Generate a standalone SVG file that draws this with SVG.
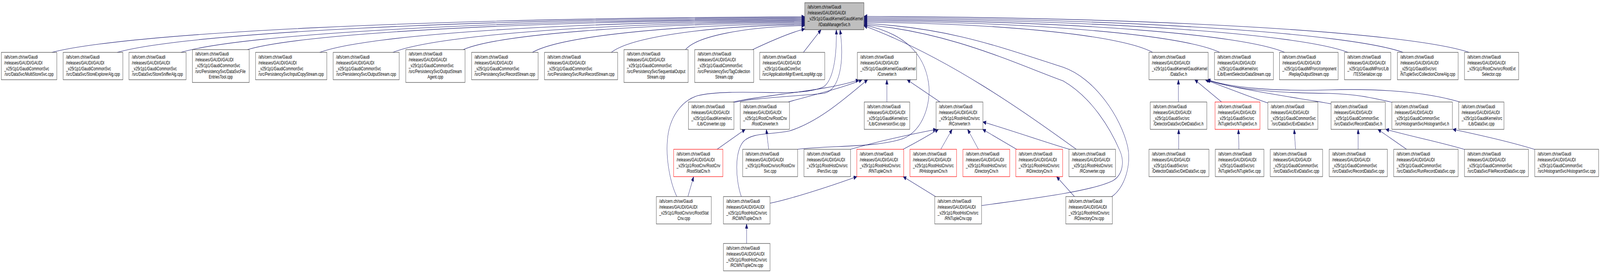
<svg xmlns="http://www.w3.org/2000/svg" width="6080" height="696" viewBox="0 0 6080 696" preserveAspectRatio="none">
<defs>
<style>
:root{width:100vw;height:100vh}
.n{fill:#ffffff;stroke:#404040;stroke-width:1.2}
.r{fill:#ffffff;stroke:#ff0000;stroke-width:1.2}
.root{fill:#bfbfbf;stroke:#404040;stroke-width:1.2}
text{font-family:"Liberation Sans",Arial,Helvetica,sans-serif;font-size:13.3px;fill:#000000}
.c{text-anchor:middle}
#edges path{fill:none;stroke:#191970;stroke-width:1.1}
</style>
<marker id="ah" markerUnits="userSpaceOnUse" markerWidth="14" markerHeight="12" refX="12" refY="5" orient="auto">
<path d="M0,0 L12,5 L0,10 z" fill="#191970" stroke="#191970" stroke-width="1"/>
</marker>
</defs>
<rect width="6080" height="696" fill="#ffffff"/>

<g id="edges" marker-end="url(#ah)">
<path d="M197,134 C483,84 1628,46 3058,43"/>
<path d="M445,134 C706,85 1752,48.5 3058,45.5"/>
<path d="M687,134 C924,87 1873,51 3058,48"/>
<path d="M940,127 C1152,85 1997,53.5 3058,50.5"/>
<path d="M1215,134 C1399,89 2137,56 3058,53"/>
<path d="M1493,134 C1650,91 2276,58.5 3058,55.5"/>
<path d="M1760,127 C1890,89 2409,61 3058,58"/>
<path d="M2023,134 C2127,94 2541,63.5 3058,60.5"/>
<path d="M2323,134 C2397,95 2691,66 3058,63"/>
<path d="M2605,127 C2646,93 2829,68.5 3058,65.5"/>
<path d="M2860,127 C2920,108 3000,84 3058,74"/>
<path d="M3053,134 L3120,76"/>
<path d="M4380,134 C4270,92 3831,60 3283,57"/>
<path d="M4635,134 C4500,90 3959,57 3283,54"/>
<path d="M4882,134 C4722,88 4082,54 3283,51"/>
<path d="M5123,134 C4939,87 4203,51 3283,48"/>
<path d="M5332,134 C5127,85 4307,48 3283,45"/>
<path d="M5583,134 C5353,83 4433,45 3283,42"/>
<path d="M3370,261 L3370,204"/>
<path d="M3572,261 L3447,204"/>
<path d="M2785,261 C2900,243 3150,232 3264,204"/>
<path d="M2995,261 C3050,250 3200,226 3276,204"/>
<path d="M2817,503 C2795,460 2790,390 2825,362 C2860,338 2930,345 3000,335 C3120,310 3230,240 3297,204"/>
<path d="M2572,503 C2548,470 2530,410 2536,360 C2542,300 2590,258 2650,245 C2720,233 2850,236 2950,237 C3050,238 3100,232 3130,222 C3165,205 3180,150 3178,76"/>
<path d="M2790,262 C2870,250 3050,245 3130,239 C3190,232 3210,160 3192,76"/>
<path d="M2725,382 L2832,331"/>
<path d="M2921,382 L2912,331"/>
<path d="M2614,503 L2636,452"/>
<path d="M2837,623 L2837,573"/>
<path d="M2926,520 C3000,510 3150,478 3256,452"/>
<path d="M3031,382 C3150,372 3330,378 3430,355 C3510,335 3540,260 3528,210 C3512,140 3440,85 3283,64"/>
<path d="M3232,382 C3320,365 3450,345 3558,331"/>
<path d="M3432,382 C3480,365 3520,350 3566,331"/>
<path d="M3575,382 L3618,331"/>
<path d="M3718,382 L3677,331"/>
<path d="M3863,382 L3734,331"/>
<path d="M4064,382 C4000,370 3850,335 3735,312"/>
<path d="M4090,382 C3900,290 3600,145 3283,66"/>
<path d="M3555,503 L3432,452"/>
<path d="M3730,526 C3900,510 4150,490 4230,462 C4270,445 4272,410 4255,385 C4220,330 4150,250 4040,207 C3850,160 3600,80 3283,63"/>
<path d="M4083,503 L4015,452"/>
<path d="M4225,503 C4275,480 4300,420 4285,375 C4260,300 4160,200 4040,172 C3800,120 3600,70 3283,60"/>
<path d="M4478,261 L4478,204"/>
<path d="M4642,261 L4540,204"/>
<path d="M4820,264 C4750,248 4650,222 4580,204"/>
<path d="M5060,266 C4950,252 4700,230 4584,204"/>
<path d="M5292,262 C5200,248 5150,241 5050,239 C4850,238 4680,228 4586,204"/>
<path d="M5548,261 C5420,236 5250,226 5050,230 C4850,234 4680,225 4588,204"/>
<path d="M4479,382 L4479,331"/>
<path d="M4708,382 L4706,331"/>
<path d="M4923,382 L4918,331"/>
<path d="M5161,382 L5161,331"/>
<path d="M5345,382 L5236,331"/>
<path d="M5568,383 C5480,365 5380,352 5266,331"/>
<path d="M5835,383 C5750,365 5620,345 5521,331"/>
</g>

<g id="IDataManagerSvc_h" transform="translate(3058,7)"><rect class="root" width="225" height="69"/><text><tspan x="11" y="15.5">/afs/cern.ch/sw/Gaudi</tspan><tspan x="11" y="30.3">/releases/GAUDI/GAUDI</tspan><tspan x="11" y="45.1">_v25r1p1/GaudiKernel/GaudiKernel</tspan></text><text class="c" x="112.5" y="59.9">/IDataManagerSvc.h</text></g>

<g id="MultiStoreSvc_cpp" transform="translate(5,134)"><rect class="n" width="211" height="70"/><text><tspan x="11" y="16">/afs/cern.ch/sw/Gaudi</tspan><tspan x="11" y="30.8">/releases/GAUDI/GAUDI</tspan><tspan x="11" y="45.6">_v25r1p1/GaudiCommonSvc</tspan></text><text class="c" x="105.5" y="60.4">/src/DataSvc/MultiStoreSvc.cpp</text></g>
<g id="StoreExplorerAlg_cpp" transform="translate(240,134)"><rect class="n" width="227" height="70"/><text><tspan x="11" y="16">/afs/cern.ch/sw/Gaudi</tspan><tspan x="11" y="30.8">/releases/GAUDI/GAUDI</tspan><tspan x="11" y="45.6">_v25r1p1/GaudiCommonSvc</tspan></text><text class="c" x="113.5" y="60.4">/src/DataSvc/StoreExplorerAlg.cpp</text></g>
<g id="StoreSnifferAlg_cpp" transform="translate(490,134)"><rect class="n" width="217" height="70"/><text><tspan x="11" y="16">/afs/cern.ch/sw/Gaudi</tspan><tspan x="11" y="30.8">/releases/GAUDI/GAUDI</tspan><tspan x="11" y="45.6">_v25r1p1/GaudiCommonSvc</tspan></text><text class="c" x="108.5" y="60.4">/src/DataSvc/StoreSnifferAlg.cpp</text></g>
<g id="DataSvcFileEntriesTool_cpp" transform="translate(731,127)"><rect class="n" width="216" height="84"/><text><tspan x="11" y="15.3">/afs/cern.ch/sw/Gaudi</tspan><tspan x="11" y="30.1">/releases/GAUDI/GAUDI</tspan><tspan x="11" y="44.9">_v25r1p1/GaudiCommonSvc</tspan><tspan x="11" y="59.7">/src/PersistencySvc/DataSvcFile</tspan></text><text class="c" x="108" y="74.5">EntriesTool.cpp</text></g>
<g id="InputCopyStream_cpp" transform="translate(971,134)"><rect class="n" width="271" height="70"/><text><tspan x="11" y="16">/afs/cern.ch/sw/Gaudi</tspan><tspan x="11" y="30.8">/releases/GAUDI/GAUDI</tspan><tspan x="11" y="45.6">_v25r1p1/GaudiCommonSvc</tspan></text><text class="c" x="135.5" y="60.4">/src/PersistencySvc/InputCopyStream.cpp</text></g>
<g id="OutputStream_cpp" transform="translate(1266,134)"><rect class="n" width="251" height="70"/><text><tspan x="11" y="16">/afs/cern.ch/sw/Gaudi</tspan><tspan x="11" y="30.8">/releases/GAUDI/GAUDI</tspan><tspan x="11" y="45.6">_v25r1p1/GaudiCommonSvc</tspan></text><text class="c" x="125.5" y="60.4">/src/PersistencySvc/OutputStream.cpp</text></g>
<g id="OutputStreamAgent_cpp" transform="translate(1542,127)"><rect class="n" width="225" height="84"/><text><tspan x="11" y="15.3">/afs/cern.ch/sw/Gaudi</tspan><tspan x="11" y="30.1">/releases/GAUDI/GAUDI</tspan><tspan x="11" y="44.9">_v25r1p1/GaudiCommonSvc</tspan><tspan x="11" y="59.7">/src/PersistencySvc/OutputStream</tspan></text><text class="c" x="112.5" y="74.5">Agent.cpp</text></g>
<g id="RecordStream_cpp" transform="translate(1792,134)"><rect class="n" width="253" height="70"/><text><tspan x="11" y="16">/afs/cern.ch/sw/Gaudi</tspan><tspan x="11" y="30.8">/releases/GAUDI/GAUDI</tspan><tspan x="11" y="45.6">_v25r1p1/GaudiCommonSvc</tspan></text><text class="c" x="126.5" y="60.4">/src/PersistencySvc/RecordStream.cpp</text></g>
<g id="RunRecordStream_cpp" transform="translate(2069,134)"><rect class="n" width="278" height="70"/><text><tspan x="11" y="16">/afs/cern.ch/sw/Gaudi</tspan><tspan x="11" y="30.8">/releases/GAUDI/GAUDI</tspan><tspan x="11" y="45.6">_v25r1p1/GaudiCommonSvc</tspan></text><text class="c" x="139" y="60.4">/src/PersistencySvc/RunRecordStream.cpp</text></g>
<g id="SequentialOutputStream_cpp" transform="translate(2371,127)"><rect class="n" width="244" height="84"/><text><tspan x="11" y="15.3">/afs/cern.ch/sw/Gaudi</tspan><tspan x="11" y="30.1">/releases/GAUDI/GAUDI</tspan><tspan x="11" y="44.9">_v25r1p1/GaudiCommonSvc</tspan><tspan x="11" y="59.7">/src/PersistencySvc/SequentialOutput</tspan></text><text class="c" x="122" y="74.5">Stream.cpp</text></g>
<g id="TagCollectionStream_cpp" transform="translate(2640,127)"><rect class="n" width="224" height="84"/><text><tspan x="11" y="15.3">/afs/cern.ch/sw/Gaudi</tspan><tspan x="11" y="30.1">/releases/GAUDI/GAUDI</tspan><tspan x="11" y="44.9">_v25r1p1/GaudiCommonSvc</tspan><tspan x="11" y="59.7">/src/PersistencySvc/TagCollection</tspan></text><text class="c" x="112" y="74.5">Stream.cpp</text></g>
<g id="EventLoopMgr_cpp" transform="translate(2887,134)"><rect class="n" width="247" height="70"/><text><tspan x="11" y="16">/afs/cern.ch/sw/Gaudi</tspan><tspan x="11" y="30.8">/releases/GAUDI/GAUDI</tspan><tspan x="11" y="45.6">_v25r1p1/GaudiCoreSvc</tspan></text><text class="c" x="123.5" y="60.4">/src/ApplicationMgr/EventLoopMgr.cpp</text></g>
<g id="Converter_h" transform="translate(3258,134)"><rect class="n" width="225" height="70"/><text><tspan x="11" y="16">/afs/cern.ch/sw/Gaudi</tspan><tspan x="11" y="30.8">/releases/GAUDI/GAUDI</tspan><tspan x="11" y="45.6">_v25r1p1/GaudiKernel/GaudiKernel</tspan></text><text class="c" x="112.5" y="60.4">/Converter.h</text></g>
<g id="DataSvc_h" transform="translate(4366,134)"><rect class="n" width="225" height="70"/><text><tspan x="11" y="16">/afs/cern.ch/sw/Gaudi</tspan><tspan x="11" y="30.8">/releases/GAUDI/GAUDI</tspan><tspan x="11" y="45.6">_v25r1p1/GaudiKernel/GaudiKernel</tspan></text><text class="c" x="112.5" y="60.4">/DataSvc.h</text></g>
<g id="EventSelectorDataStream_cpp" transform="translate(4615,134)"><rect class="n" width="224" height="70"/><text><tspan x="11" y="16">/afs/cern.ch/sw/Gaudi</tspan><tspan x="11" y="30.8">/releases/GAUDI/GAUDI</tspan><tspan x="11" y="45.6">_v25r1p1/GaudiKernel/src</tspan></text><text class="c" x="112" y="60.4">/Lib/EventSelectorDataStream.cpp</text></g>
<g id="ReplayOutputStream_cpp" transform="translate(4862,134)"><rect class="n" width="223" height="70"/><text><tspan x="11" y="16">/afs/cern.ch/sw/Gaudi</tspan><tspan x="11" y="30.8">/releases/GAUDI/GAUDI</tspan><tspan x="11" y="45.6">_v25r1p1/GaudiMP/src/component</tspan></text><text class="c" x="111.5" y="60.4">/ReplayOutputStream.cpp</text></g>
<g id="TESSerializer_cpp" transform="translate(5109,134)"><rect class="n" width="176" height="70"/><text><tspan x="11" y="16">/afs/cern.ch/sw/Gaudi</tspan><tspan x="11" y="30.8">/releases/GAUDI/GAUDI</tspan><tspan x="11" y="45.6">_v25r1p1/GaudiMP/src/Lib</tspan></text><text class="c" x="88" y="60.4">/TESSerializer.cpp</text></g>
<g id="CollectionCloneAlg_cpp" transform="translate(5310,134)"><rect class="n" width="231" height="70"/><text><tspan x="11" y="16">/afs/cern.ch/sw/Gaudi</tspan><tspan x="11" y="30.8">/releases/GAUDI/GAUDI</tspan><tspan x="11" y="45.6">_v25r1p1/GaudiSvc/src</tspan></text><text class="c" x="115.5" y="60.4">/NTupleSvc/CollectionCloneAlg.cpp</text></g>
<g id="RootEvtSelector_cpp" transform="translate(5565,134)"><rect class="n" width="206" height="70"/><text><tspan x="11" y="16">/afs/cern.ch/sw/Gaudi</tspan><tspan x="11" y="30.8">/releases/GAUDI/GAUDI</tspan><tspan x="11" y="45.6">_v25r1p1/RootCnv/src/RootEvt</tspan></text><text class="c" x="103" y="60.4">Selector.cpp</text></g>

<g id="Converter_cpp" transform="translate(2616,261)"><rect class="n" width="173" height="70"/><text><tspan x="11" y="16">/afs/cern.ch/sw/Gaudi</tspan><tspan x="11" y="30.8">/releases/GAUDI/GAUDI</tspan><tspan x="11" y="45.6">_v25r1p1/GaudiKernel/src</tspan></text><text class="c" x="86.5" y="60.4">/Lib/Converter.cpp</text></g>
<g id="RootConverter_h" transform="translate(2813,261)"><rect class="n" width="187" height="70"/><text><tspan x="11" y="16">/afs/cern.ch/sw/Gaudi</tspan><tspan x="11" y="30.8">/releases/GAUDI/GAUDI</tspan><tspan x="11" y="45.6">_v25r1p1/RootCnv/RootCnv</tspan></text><text class="c" x="93.5" y="60.4">/RootConverter.h</text></g>
<g id="ConversionSvc_cpp" transform="translate(3284,261)"><rect class="n" width="173" height="70"/><text><tspan x="11" y="16">/afs/cern.ch/sw/Gaudi</tspan><tspan x="11" y="30.8">/releases/GAUDI/GAUDI</tspan><tspan x="11" y="45.6">_v25r1p1/GaudiKernel/src</tspan></text><text class="c" x="86.5" y="60.4">/Lib/ConversionSvc.cpp</text></g>
<g id="RConverter_h" transform="translate(3557,261)"><rect class="n" width="178" height="70"/><text><tspan x="11" y="16">/afs/cern.ch/sw/Gaudi</tspan><tspan x="11" y="30.8">/releases/GAUDI/GAUDI</tspan><tspan x="11" y="45.6">_v25r1p1/RootHistCnv/src</tspan></text><text class="c" x="89" y="60.4">/RConverter.h</text></g>
<g id="DetDataSvc_h" transform="translate(4371,261)"><rect class="n" width="215" height="70"/><text><tspan x="11" y="16">/afs/cern.ch/sw/Gaudi</tspan><tspan x="11" y="30.8">/releases/GAUDI/GAUDI</tspan><tspan x="11" y="45.6">_v25r1p1/GaudiSvc/src</tspan></text><text class="c" x="107.5" y="60.4">/DetectorDataSvc/DetDataSvc.h</text></g>
<g id="NTupleSvc_h" transform="translate(4617,261)"><rect class="r" width="171" height="70"/><text><tspan x="11" y="16">/afs/cern.ch/sw/Gaudi</tspan><tspan x="11" y="30.8">/releases/GAUDI/GAUDI</tspan><tspan x="11" y="45.6">_v25r1p1/GaudiSvc/src</tspan></text><text class="c" x="85.5" y="60.4">/NTupleSvc/NTupleSvc.h</text></g>
<g id="EvtDataSvc_h" transform="translate(4818,261)"><rect class="n" width="190" height="70"/><text><tspan x="11" y="16">/afs/cern.ch/sw/Gaudi</tspan><tspan x="11" y="30.8">/releases/GAUDI/GAUDI</tspan><tspan x="11" y="45.6">_v25r1p1/GaudiCommonSvc</tspan></text><text class="c" x="95" y="60.4">/src/DataSvc/EvtDataSvc.h</text></g>
<g id="RecordDataSvc_h" transform="translate(5058,261)"><rect class="n" width="206" height="70"/><text><tspan x="11" y="16">/afs/cern.ch/sw/Gaudi</tspan><tspan x="11" y="30.8">/releases/GAUDI/GAUDI</tspan><tspan x="11" y="45.6">_v25r1p1/GaudiCommonSvc</tspan></text><text class="c" x="103" y="60.4">/src/DataSvc/RecordDataSvc.h</text></g>
<g id="HistogramSvc_h" transform="translate(5289,261)"><rect class="n" width="230" height="70"/><text><tspan x="11" y="16">/afs/cern.ch/sw/Gaudi</tspan><tspan x="11" y="30.8">/releases/GAUDI/GAUDI</tspan><tspan x="11" y="45.6">_v25r1p1/GaudiCommonSvc</tspan></text><text class="c" x="115" y="60.4">/src/HistogramSvc/HistogramSvc.h</text></g>
<g id="DataSvc_cpp" transform="translate(5543,261)"><rect class="n" width="172" height="70"/><text><tspan x="11" y="16">/afs/cern.ch/sw/Gaudi</tspan><tspan x="11" y="30.8">/releases/GAUDI/GAUDI</tspan><tspan x="11" y="45.6">_v25r1p1/GaudiKernel/src</tspan></text><text class="c" x="86" y="60.4">/Lib/DataSvc.cpp</text></g>

<g id="RootStatCnv_h" transform="translate(2560,382)"><rect class="r" width="187" height="70"/><text><tspan x="11" y="16">/afs/cern.ch/sw/Gaudi</tspan><tspan x="11" y="30.8">/releases/GAUDI/GAUDI</tspan><tspan x="11" y="45.6">_v25r1p1/RootCnv/RootCnv</tspan></text><text class="c" x="93.5" y="60.4">/RootStatCnv.h</text></g>
<g id="RootCnvSvc_cpp" transform="translate(2822,382)"><rect class="n" width="209" height="70"/><text><tspan x="11" y="16">/afs/cern.ch/sw/Gaudi</tspan><tspan x="11" y="30.8">/releases/GAUDI/GAUDI</tspan><tspan x="11" y="45.6">_v25r1p1/RootCnv/src/RootCnv</tspan></text><text class="c" x="104.5" y="60.4">Svc.cpp</text></g>
<g id="PersSvc_cpp" transform="translate(3055,382)"><rect class="n" width="177" height="70"/><text><tspan x="11" y="16">/afs/cern.ch/sw/Gaudi</tspan><tspan x="11" y="30.8">/releases/GAUDI/GAUDI</tspan><tspan x="11" y="45.6">_v25r1p1/RootHistCnv/src</tspan></text><text class="c" x="88.5" y="60.4">/PersSvc.cpp</text></g>
<g id="RNTupleCnv_h" transform="translate(3256,382)"><rect class="r" width="178" height="70"/><text><tspan x="11" y="16">/afs/cern.ch/sw/Gaudi</tspan><tspan x="11" y="30.8">/releases/GAUDI/GAUDI</tspan><tspan x="11" y="45.6">_v25r1p1/RootHistCnv/src</tspan></text><text class="c" x="89" y="60.4">/RNTupleCnv.h</text></g>
<g id="RHistogramCnv_h" transform="translate(3458,382)"><rect class="r" width="177" height="70"/><text><tspan x="11" y="16">/afs/cern.ch/sw/Gaudi</tspan><tspan x="11" y="30.8">/releases/GAUDI/GAUDI</tspan><tspan x="11" y="45.6">_v25r1p1/RootHistCnv/src</tspan></text><text class="c" x="88.5" y="60.4">/RHistogramCnv.h</text></g>
<g id="DirectoryCnv_h" transform="translate(3659,382)"><rect class="r" width="178" height="70"/><text><tspan x="11" y="16">/afs/cern.ch/sw/Gaudi</tspan><tspan x="11" y="30.8">/releases/GAUDI/GAUDI</tspan><tspan x="11" y="45.6">_v25r1p1/RootHistCnv/src</tspan></text><text class="c" x="89" y="60.4">/DirectoryCnv.h</text></g>
<g id="RDirectoryCnv_h" transform="translate(3860,382)"><rect class="r" width="178" height="70"/><text><tspan x="11" y="16">/afs/cern.ch/sw/Gaudi</tspan><tspan x="11" y="30.8">/releases/GAUDI/GAUDI</tspan><tspan x="11" y="45.6">_v25r1p1/RootHistCnv/src</tspan></text><text class="c" x="89" y="60.4">/RDirectoryCnv.h</text></g>
<g id="RConverter_cpp" transform="translate(4062,382)"><rect class="n" width="177" height="70"/><text><tspan x="11" y="16">/afs/cern.ch/sw/Gaudi</tspan><tspan x="11" y="30.8">/releases/GAUDI/GAUDI</tspan><tspan x="11" y="45.6">_v25r1p1/RootHistCnv/src</tspan></text><text class="c" x="88.5" y="60.4">/RConverter.cpp</text></g>
<g id="DetDataSvc_cpp" transform="translate(4366,382)"><rect class="n" width="228" height="70"/><text><tspan x="11" y="16">/afs/cern.ch/sw/Gaudi</tspan><tspan x="11" y="30.8">/releases/GAUDI/GAUDI</tspan><tspan x="11" y="45.6">_v25r1p1/GaudiSvc/src</tspan></text><text class="c" x="114" y="60.4">/DetectorDataSvc/DetDataSvc.cpp</text></g>
<g id="NTupleSvc_cpp" transform="translate(4618,382)"><rect class="n" width="185" height="70"/><text><tspan x="11" y="16">/afs/cern.ch/sw/Gaudi</tspan><tspan x="11" y="30.8">/releases/GAUDI/GAUDI</tspan><tspan x="11" y="45.6">_v25r1p1/GaudiSvc/src</tspan></text><text class="c" x="92.5" y="60.4">/NTupleSvc/NTupleSvc.cpp</text></g>
<g id="EvtDataSvc_cpp" transform="translate(4827,382)"><rect class="n" width="199" height="70"/><text><tspan x="11" y="16">/afs/cern.ch/sw/Gaudi</tspan><tspan x="11" y="30.8">/releases/GAUDI/GAUDI</tspan><tspan x="11" y="45.6">_v25r1p1/GaudiCommonSvc</tspan></text><text class="c" x="99.5" y="60.4">/src/DataSvc/EvtDataSvc.cpp</text></g>
<g id="RecordDataSvc_cpp" transform="translate(5051,382)"><rect class="n" width="221" height="70"/><text><tspan x="11" y="16">/afs/cern.ch/sw/Gaudi</tspan><tspan x="11" y="30.8">/releases/GAUDI/GAUDI</tspan><tspan x="11" y="45.6">_v25r1p1/GaudiCommonSvc</tspan></text><text class="c" x="110.5" y="60.4">/src/DataSvc/RecordDataSvc.cpp</text></g>
<g id="RunRecordDataSvc_cpp" transform="translate(5296,382)"><rect class="n" width="245" height="70"/><text><tspan x="11" y="16">/afs/cern.ch/sw/Gaudi</tspan><tspan x="11" y="30.8">/releases/GAUDI/GAUDI</tspan><tspan x="11" y="45.6">_v25r1p1/GaudiCommonSvc</tspan></text><text class="c" x="122.5" y="60.4">/src/DataSvc/RunRecordDataSvc.cpp</text></g>
<g id="FileRecordDataSvc_cpp" transform="translate(5565,382)"><rect class="n" width="243" height="70"/><text><tspan x="11" y="16">/afs/cern.ch/sw/Gaudi</tspan><tspan x="11" y="30.8">/releases/GAUDI/GAUDI</tspan><tspan x="11" y="45.6">_v25r1p1/GaudiCommonSvc</tspan></text><text class="c" x="121.5" y="60.4">/src/DataSvc/FileRecordDataSvc.cpp</text></g>
<g id="HistogramSvc_cpp" transform="translate(5832,382)"><rect class="n" width="243" height="70"/><text><tspan x="11" y="16">/afs/cern.ch/sw/Gaudi</tspan><tspan x="11" y="30.8">/releases/GAUDI/GAUDI</tspan><tspan x="11" y="45.6">_v25r1p1/GaudiCommonSvc</tspan></text><text class="c" x="121.5" y="60.4">/src/HistogramSvc/HistogramSvc.cpp</text></g>

<g id="RootStatCnv_cpp" transform="translate(2494,503)"><rect class="n" width="209" height="70"/><text><tspan x="11" y="16">/afs/cern.ch/sw/Gaudi</tspan><tspan x="11" y="30.8">/releases/GAUDI/GAUDI</tspan><tspan x="11" y="45.6">_v25r1p1/RootCnv/src/RootStat</tspan></text><text class="c" x="104.5" y="60.4">Cnv.cpp</text></g>
<g id="RCWNTupleCnv_h" transform="translate(2749,503)"><rect class="n" width="177" height="70"/><text><tspan x="11" y="16">/afs/cern.ch/sw/Gaudi</tspan><tspan x="11" y="30.8">/releases/GAUDI/GAUDI</tspan><tspan x="11" y="45.6">_v25r1p1/RootHistCnv/src</tspan></text><text class="c" x="88.5" y="60.4">/RCWNTupleCnv.h</text></g>
<g id="RNTupleCnv_cpp" transform="translate(3552,503)"><rect class="n" width="178" height="70"/><text><tspan x="11" y="16">/afs/cern.ch/sw/Gaudi</tspan><tspan x="11" y="30.8">/releases/GAUDI/GAUDI</tspan><tspan x="11" y="45.6">_v25r1p1/RootHistCnv/src</tspan></text><text class="c" x="89" y="60.4">/RNTupleCnv.cpp</text></g>
<g id="RDirectoryCnv_cpp" transform="translate(4050,503)"><rect class="n" width="177" height="70"/><text><tspan x="11" y="16">/afs/cern.ch/sw/Gaudi</tspan><tspan x="11" y="30.8">/releases/GAUDI/GAUDI</tspan><tspan x="11" y="45.6">_v25r1p1/RootHistCnv/src</tspan></text><text class="c" x="88.5" y="60.4">/RDirectoryCnv.cpp</text></g>
<g id="RCWNTupleCnv_cpp" transform="translate(2749,623)"><rect class="n" width="177" height="70"/><text><tspan x="11" y="16">/afs/cern.ch/sw/Gaudi</tspan><tspan x="11" y="30.8">/releases/GAUDI/GAUDI</tspan><tspan x="11" y="45.6">_v25r1p1/RootHistCnv/src</tspan></text><text class="c" x="88.5" y="60.4">/RCWNTupleCnv.cpp</text></g>
</svg>
